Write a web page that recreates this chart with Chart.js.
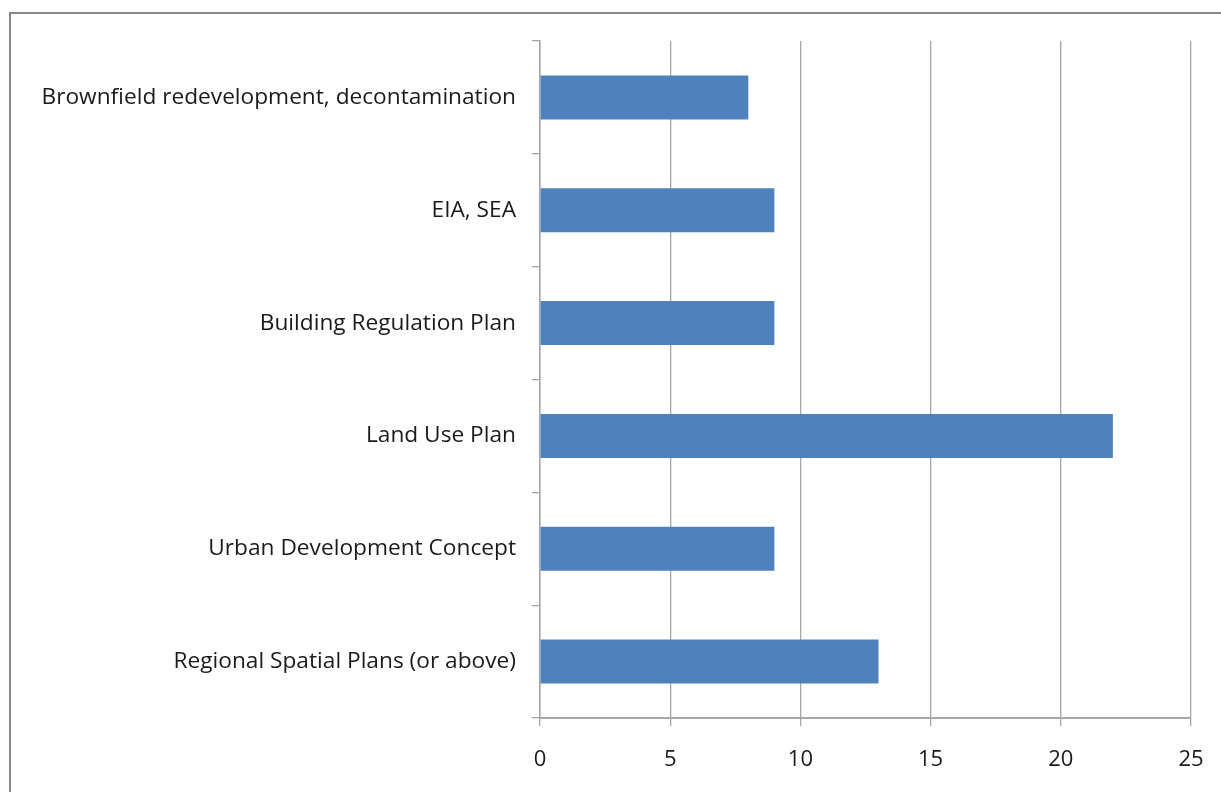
<!DOCTYPE html>
<html>
<head>
<meta charset="utf-8">
<script src="https://cdn.jsdelivr.net/npm/chart.js@4/dist/chart.umd.min.js"></script>
<style>
  html, body { margin: 0; padding: 0; background: #fff; overflow: hidden; }
  #wrap { position: relative; width: 1221px; height: 792px; }
  #frame { position: absolute; left: 9px; top: 12px; width: 1300px; height: 900px;
           border: 2px solid #8a8a8a; box-sizing: border-box; pointer-events: none; }
  canvas { position: absolute; left: 0; top: 0; }
</style>
</head>
<body>
<div id="wrap">
  <canvas id="c" width="1221" height="792"></canvas>
  <div id="frame"></div>
</div>
<script>
// Planning instruments, listed top to bottom
const categories = [
  'Brownfield redevelopment, decontamination',
  'EIA, SEA',
  'Building Regulation Plan',
  'Land Use Plan',
  'Urban Development Concept',
  'Regional Spatial Plans (or above)'
];
const counts = [8, 9, 9, 22, 9, 13];
const xTicks = [0, 5, 10, 15, 20, 25];

const gridGrey = '#a6a6a6';
const fontFamily = "'Open Sans', 'Liberation Sans', sans-serif";

new Chart(document.getElementById('c'), {
  type: 'bar',
  data: {
    labels: categories,
    datasets: [{
      data: counts,
      backgroundColor: '#4f81bd',
      borderWidth: 0,
      barPercentage: 0.39,
      categoryPercentage: 1
    }]
  },
  options: {
    indexAxis: 'y',
    responsive: false,
    animation: false,
    layout: { padding: { left: 0, top: 41, right: 30, bottom: 0 } },
    plugins: { legend: { display: false }, tooltip: { enabled: false } },
    scales: {
      x: {
        min: xTicks[0],
        max: xTicks[xTicks.length - 1],
        afterBuildTicks: s => { s.ticks = xTicks.map(v => ({ value: v })); },
        grid: { color: gridGrey, lineWidth: 1.3, tickLength: 8, drawTicks: true },
        border: { color: gridGrey, width: 2 },
        ticks: { color: '#1a1a1a', font: { family: fontFamily, size: 22 }, padding: 21 },
        afterFit: s => {
          s.height = 792 - 718;
          // the fixed right margin already leaves room for the last label
          s.paddingLeft = 0;
          s.paddingRight = 0;
        }
      },
      y: {
        grid: { offset: true, drawOnChartArea: false, color: gridGrey, lineWidth: 1.3, tickLength: 8 },
        border: { color: gridGrey, width: 1.5 },
        ticks: { color: '#1a1a1a', font: { family: fontFamily, size: 22.7 }, padding: 16, autoSkip: false },
        afterFit: s => { s.width = 540; }
      }
    }
  }
});
</script>
</body>
</html>
